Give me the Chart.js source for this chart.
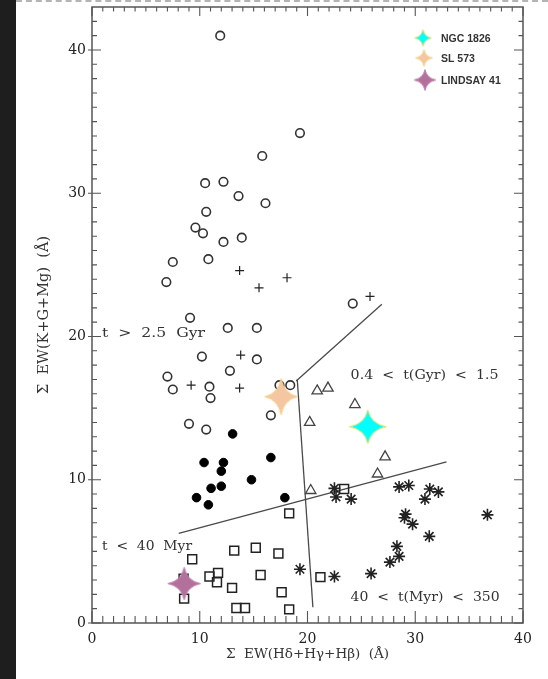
<!DOCTYPE html>
<html>
<head>
<meta charset="utf-8">
<script src="https://cdn.jsdelivr.net/npm/chart.js@4"></script>
<style>
html, body { margin: 0; padding: 0; background: #fff; width: 548px; height: 679px; overflow: hidden; }
#side { position: absolute; left: 0; top: 0; width: 16px; height: 679px; background: #1e1e1e; }
#dash { position: absolute; left: 16px; top: 0; width: 532px; height: 0; border-top: 2px dashed #b4b4b4; }
#wrap { position: absolute; left: 16px; top: 0; width: 532px; height: 679px; }
</style>
</head>
<body>
<div id="side"></div>
<div id="wrap"><canvas id="chart" width="532" height="679"></canvas></div>
<div id="dash"></div>
<script>
// Tick labels
const xTicks = [0, 10, 20, 30, 40];
const yTicks = [0, 10, 20, 30, 40];

// t > 2.5 Gyr (open circles)
const oldX = [11.9, 19.3, 15.8, 10.5, 12.2, 13.6, 16.1, 10.6, 9.6, 10.3, 12.2, 13.9, 7.5, 10.8, 6.9, 24.2,
              9.1, 12.6, 15.3, 10.2, 15.3, 12.8, 7.0, 7.5, 10.9, 11.0, 17.4, 18.4, 16.6, 9.0, 10.6];
const oldY = [41.0, 34.2, 32.6, 30.7, 30.8, 29.8, 29.3, 28.7, 27.6, 27.2, 26.6, 26.9, 25.2, 25.4, 23.8, 22.3,
              21.3, 20.6, 20.6, 18.6, 18.4, 17.6, 17.2, 16.3, 16.5, 15.7, 16.6, 16.6, 14.5, 13.9, 13.5];

// plus signs
const plusX = [13.7, 15.5, 18.1, 25.8, 13.8, 9.2, 13.7];
const plusY = [24.6, 23.4, 24.1, 22.8, 18.7, 16.6, 16.4];

// filled circles
const filledX = [13.05, 10.4, 12.2, 12.0, 16.6, 14.8, 11.05, 12.0, 9.7, 17.9, 10.8];
const filledY = [13.2, 11.2, 11.2, 10.6, 11.55, 10.0, 9.4, 9.55, 8.75, 8.75, 8.25];

// 0.4 < t(Gyr) < 1.5 (triangles)
const triX = [20.9, 21.9, 24.4, 20.2, 27.2, 26.5, 20.3];
const triY = [16.2, 16.4, 15.25, 14.0, 11.6, 10.4, 9.25];

// t < 40 Myr (squares)
const sqX = [18.3, 9.3, 13.2, 15.2, 17.3, 10.9, 11.7, 11.6, 15.65, 8.5, 8.55, 13.0, 17.6, 13.4, 14.2, 18.3, 21.2, 23.4];
const sqY = [7.65, 4.45, 5.05, 5.25, 4.85, 3.25, 3.5, 2.85, 3.35, 3.1, 1.7, 2.45, 2.15, 1.05, 1.05, 0.95, 3.2, 9.35];

// 40 < t(Myr) < 350 (asterisks)
const astX = [22.5, 22.65, 24.05, 28.5, 29.4, 31.35, 32.15, 30.9, 29.1, 29.0, 29.75, 36.7, 31.3, 28.3, 28.5, 27.65, 25.9, 22.5, 19.3];
const astY = [9.4, 8.8, 8.65, 9.5, 9.6, 9.35, 9.15, 8.65, 7.6, 7.35, 6.9, 7.55, 6.05, 5.35, 4.65, 4.25, 3.45, 3.25, 3.75];

// highlighted clusters
const clusterNames = ['NGC 1826', 'SL 573', 'LINDSAY 41'];
const clusterX = [25.6, 17.55, 8.55];
const clusterY = [13.7, 15.8, 2.75];

// boundary lines between the age groups
const line1X = [18.95, 26.9], line1Y = [16.9, 22.25];
const line2X = [19.05, 20.5], line2Y = [17.0, 1.1];
const line3X = [8.05, 32.9], line3Y = [6.25, 11.25];

// region labels
const regionText = ['t  >  2.5  Gyr', '0.4  <  t(Gyr)  <  1.5', 't  <  40  Myr', '40  <  t(Myr)  <  350'];
const regionX = [0.93, 24.0, 0.93, 24.0];
const regionY = [20.2, 17.3, 5.3, 1.8];
const regionW = [103, 148, 90, 149];

const pts = (xs, ys) => xs.map((x, i) => ({ x: x, y: ys[i] }));

// four pointed star used for the clusters
function starCanvas(w, h, fill, edge) {
    const c = document.createElement('canvas');
    c.width = w + 4; c.height = h + 4;
    const g = c.getContext('2d');
    const cx = c.width / 2, cy = c.height / 2, rx = w / 2, ry = h / 2, k = 0.16;
    g.beginPath();
    g.moveTo(cx, cy - ry);
    g.quadraticCurveTo(cx + rx * k, cy - ry * k, cx + rx, cy);
    g.quadraticCurveTo(cx + rx * k, cy + ry * k, cx, cy + ry);
    g.quadraticCurveTo(cx - rx * k, cy + ry * k, cx - rx, cy);
    g.quadraticCurveTo(cx - rx * k, cy - ry * k, cx, cy - ry);
    g.closePath();
    g.fillStyle = fill; g.fill();
    g.strokeStyle = edge; g.lineWidth = 1; g.stroke();
    return c;
}
const fills = ['#00ffff', '#f4c6a2', '#b4709c'];
const edges = ['#e8e060', '#f5d48a', '#c08aae'];
const bigStars = [starCanvas(37, 34, fills[0], edges[0]), starCanvas(33, 37, fills[1], edges[1]), starCanvas(33, 33, fills[2], edges[2])];
const smallStars = [starCanvas(17, 17, fills[0], edges[0]), starCanvas(17, 17, fills[1], edges[1]), starCanvas(22, 21, fills[2], edges[2])];

const framePlugin = {
    id: 'frame',
    beforeDatasetsDraw(chart) {
        const { ctx, chartArea: a, scales: { x, y } } = chart;
        ctx.save();
        ctx.strokeStyle = '#555';
        ctx.lineWidth = 1.5;
        ctx.strokeRect(a.left, a.top, a.right - a.left, a.bottom - a.top);
        ctx.lineWidth = 1.1;
        ctx.beginPath();
        for (let v = 0; v <= 40; v++) {
            const px = x.getPixelForValue(v);
            const major = v % 10 === 0;
            ctx.moveTo(px, a.bottom); ctx.lineTo(px, a.bottom - (major ? 12 : 7));
            ctx.moveTo(px, a.top); ctx.lineTo(px, a.top + (major ? 9 : 4.5));
        }
        for (let v = 0; v <= 42; v++) {
            const py = y.getPixelForValue(v);
            const major = v % 10 === 0;
            ctx.moveTo(a.left - (major ? 4 : 0), py); ctx.lineTo(a.left + (major ? 9 : 5), py);
            ctx.moveTo(a.right, py); ctx.lineTo(a.right - (major ? 9 : 4.5), py);
        }
        ctx.stroke();

        ctx.fillStyle = '#333';
        ctx.font = '13px "DejaVu Serif"';
        ctx.textBaseline = 'middle';
        regionText.forEach((t, i) => {
            const w = ctx.measureText(t).width;
            ctx.save();
            ctx.translate(x.getPixelForValue(regionX[i]), y.getPixelForValue(regionY[i]));
            ctx.scale(regionW[i] / w, 1);
            ctx.fillText(t, 0, 0);
            ctx.restore();
        });
        ctx.restore();
    },
    afterDraw(chart) {
        const ctx = chart.ctx;
        const lx = [407, 408, 409], ly = [38, 58, 80];
        ctx.save();
        ctx.font = 'bold 10.5px "Liberation Sans"';
        ctx.fillStyle = '#333';
        ctx.textBaseline = 'middle';
        clusterNames.forEach((n, i) => {
            const s = smallStars[i];
            ctx.drawImage(s, lx[i] - s.width / 2, ly[i] - s.height / 2);
            ctx.fillText(n, 425, ly[i] + 1);
        });
        ctx.restore();
    }
};

const serif = { family: 'DejaVu Serif', size: 14 };
const lineStyle = { showLine: true, pointRadius: 0, borderColor: '#4a4a4a', borderWidth: 1.3, fill: false };

const chart = new Chart(document.getElementById('chart'), {
    type: 'scatter',
    data: {
        datasets: [
            { data: pts(clusterX, clusterY), pointStyle: bigStars, pointRadius: 18 },
            { data: pts(astX, astY), pointStyle: 'star', pointRadius: 6, borderColor: '#222', borderWidth: 1.6, backgroundColor: 'rgba(0,0,0,0)' },
            { data: pts(plusX, plusY), pointStyle: 'cross', pointRadius: 4.5, borderColor: '#222', borderWidth: 1.2 },
            { data: pts(oldX, oldY), pointStyle: 'circle', pointRadius: 4.3, borderColor: '#333', borderWidth: 1.6, backgroundColor: 'rgba(0,0,0,0)' },
            { data: pts(filledX, filledY), pointStyle: 'circle', pointRadius: 4.3, borderColor: '#000', borderWidth: 1, backgroundColor: '#000' },
            { data: pts(triX, triY), pointStyle: 'triangle', pointRadius: 6, borderColor: '#444', borderWidth: 1.3, backgroundColor: 'rgba(0,0,0,0)' },
            { data: pts(sqX, sqY), pointStyle: 'rect', pointRadius: 6.3, borderColor: '#222', borderWidth: 1.5, backgroundColor: 'rgba(0,0,0,0)' },
            Object.assign({ data: pts(line1X, line1Y) }, lineStyle),
            Object.assign({ data: pts(line2X, line2Y) }, lineStyle),
            Object.assign({ data: pts(line3X, line3Y) }, lineStyle)
        ]
    },
    options: {
        responsive: false,
        animation: false,
        events: [],
        layout: { autoPadding: false, padding: { left: 0, right: 25, top: 7, bottom: 0 } },
        plugins: { legend: { display: false }, tooltip: { enabled: false } },
        scales: {
            x: {
                type: 'linear', min: 0, max: 40,
                afterBuildTicks: s => { s.ticks = xTicks.map(v => ({ value: v })); },
                afterFit: s => { s.height = 56; s.paddingLeft = 0; s.paddingRight = 0; },
                grid: { display: false, drawTicks: false },
                border: { display: false },
                ticks: { padding: 8, color: '#222', font: serif },
                title: { display: true, text: 'Σ  EW(Hδ+Hγ+Hβ)  (Å)', color: '#333', font: { family: 'DejaVu Serif', size: 13.5 }, padding: { top: 0, bottom: 16 } }
            },
            y: {
                type: 'linear', min: 0, max: 43,
                afterBuildTicks: s => { s.ticks = yTicks.map(v => ({ value: v })); },
                afterFit: s => { s.width = 76; s.paddingTop = 0; s.paddingBottom = 0; },
                grid: { display: false, drawTicks: false },
                border: { display: false },
                ticks: { padding: 6, color: '#222', font: serif },
                title: { display: true, text: 'Σ  EW(K+G+Mg)  (Å)', color: '#333', font: { family: 'DejaVu Serif', size: 14.5 }, padding: { top: 20, bottom: 0 } }
            }
        }
    },
    plugins: [framePlugin]
});
</script>
</body>
</html>
